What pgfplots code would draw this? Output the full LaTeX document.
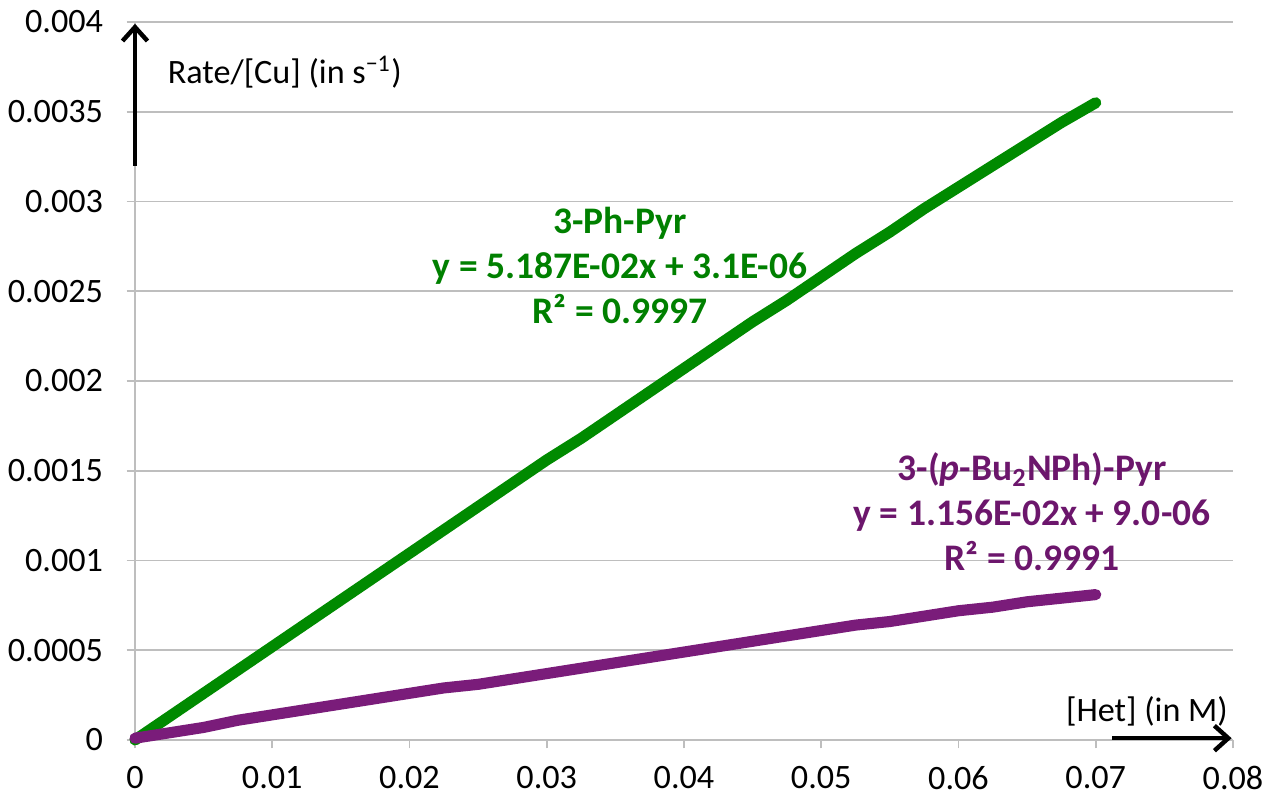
\documentclass[border=0pt]{standalone}
\usepackage{pgfplots}
\pgfplotsset{compat=1.18}
\usepackage{fontspec}
\setmainfont{Carlito}
\usetikzlibrary{arrows.meta}
\definecolor{grn}{RGB}{0,138,0}
\definecolor{pur}{RGB}{122,28,122}
\definecolor{grntxt}{RGB}{0,128,0}
\definecolor{purtxt}{RGB}{108,22,108}
\definecolor{gridgray}{RGB}{190,190,190}
\begin{document}
\begin{tikzpicture}
\begin{axis}[
  scale only axis, width=395.28pt, height=258.48pt,
  xmin=0, xmax=0.08, ymin=0, ymax=0.004,
  clip=false,
  axis x line*=bottom, axis y line*=left,
  axis line style={gridgray, line width=0.6pt},
  xtick={0,0.01,0.02,0.03,0.04,0.05,0.06,0.07,0.08},
  xticklabels={0,0.01,0.02,0.03,0.04,0.05,0.06,0.07,0.08},
  ytick={0,0.0005,0.001,0.0015,0.002,0.0025,0.003,0.0035,0.004},
  yticklabels={0,0.0005,0.001,0.0015,0.002,0.0025,0.003,0.0035,0.004},
  scaled ticks=false,
  tick align=outside,
  major tick length=3pt,
  tick style={gridgray, line width=0.6pt},
  ymajorgrids, grid style={gridgray, line width=0.6pt},
  tick label style={font=\fontsize{12.3}{14}\selectfont, text=black},
  xticklabel style={yshift=-3pt},
  yticklabel style={xshift=-5pt},
]
\addplot[grn, line width=4pt, line cap=round, line join=round] coordinates {
(0,0) (0.0025,0.00013) (0.005,0.00026) (0.0075,0.00039) (0.01,0.00052)
(0.0125,0.00065) (0.015,0.00078) (0.0175,0.00091) (0.02,0.00104)
(0.0225,0.00117) (0.025,0.00130) (0.0275,0.00143) (0.03,0.00156)
(0.0325,0.00168) (0.035,0.00181) (0.0375,0.00194) (0.04,0.00207)
(0.0425,0.00220) (0.045,0.00233) (0.0475,0.00245) (0.05,0.00258)
(0.0525,0.00271) (0.055,0.00283) (0.0575,0.00296) (0.06,0.00308)
(0.0625,0.00320) (0.065,0.00332) (0.0675,0.00344) (0.07,0.00355)
};
\addplot[pur, line width=4pt, line cap=round, line join=round] coordinates {
(0,0.00001) (0.0025,0.00004) (0.005,0.00007) (0.0075,0.00011) (0.01,0.00014)
(0.0125,0.00017) (0.015,0.00020) (0.0175,0.00023) (0.02,0.00026)
(0.0225,0.00029) (0.025,0.00031) (0.0275,0.00034) (0.03,0.00037)
(0.0325,0.00040) (0.035,0.00043) (0.0375,0.00046) (0.04,0.00049)
(0.0425,0.00052) (0.045,0.00055) (0.0475,0.00058) (0.05,0.00061)
(0.0525,0.00064) (0.055,0.00066) (0.0575,0.00069) (0.06,0.00072)
(0.0625,0.00074) (0.065,0.00077) (0.0675,0.00079) (0.07,0.00081)
};
\node[align=center, text=grntxt, font=\fontsize{13.5}{16.2}\selectfont\bfseries]
  at (axis cs:0.03534,0.002646) {3-Ph-Pyr\\y = 5.187E-02x + 3.1E-06\\R² = 0.9997};
\node[align=center, text=purtxt, font=\fontsize{13.5}{16.2}\selectfont\bfseries]
  at (axis cs:0.06536,0.00127) {3-(\textit{p}-Bu\textsubscript{2}NPh)-Pyr\\y = 1.156E-02x + 9.0-06\\R² = 0.9991};
\node[anchor=west, font=\fontsize{12.3}{14}\selectfont]
  at (axis cs:0.00168,0.003721) {Rate/[Cu] (in s\textsuperscript{−1})};
\node[font=\fontsize{12.3}{14}\selectfont]
  at (axis cs:0.07373,0.00016) {[Het] (in M)};
\draw[black, line width=1.6pt, -{Straight Barb[length=5pt,width=9pt,line width=1.6pt]}]
  (axis cs:0,0.0032) -- (axis cs:0,0.00399);
\draw[black, line width=1.6pt, -{Straight Barb[length=5pt,width=9pt,line width=1.6pt]}]
  (axis cs:0.0712,0.00001) -- (axis cs:0.0799,0.00001);
\end{axis}
\pgfresetboundingbox
\useasboundingbox (-48.6pt,-19.44pt) rectangle (407.16pt,266.4pt);
\end{tikzpicture}
\end{document}
